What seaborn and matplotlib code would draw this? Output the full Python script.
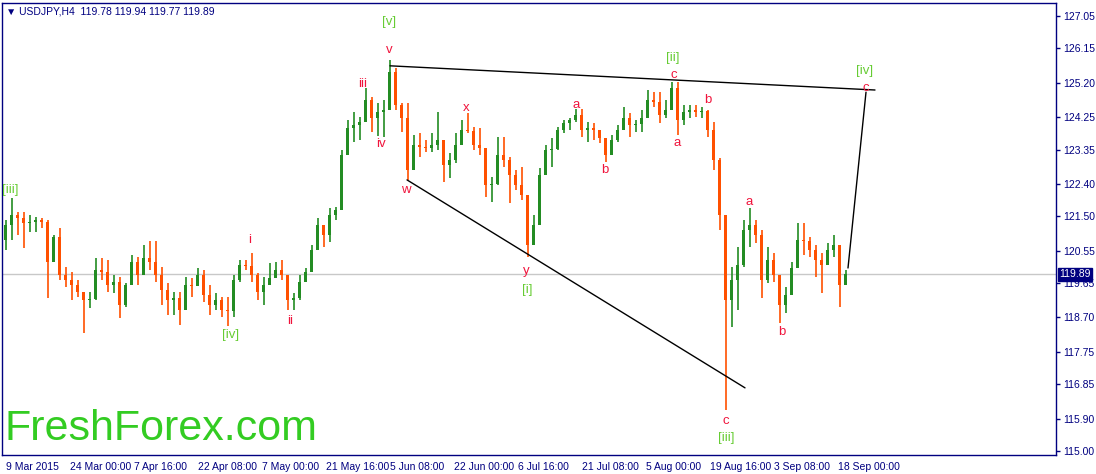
import numpy as np
import pandas as pd
import matplotlib
matplotlib.use("Agg")
import matplotlib.pyplot as plt
import matplotlib.transforms as mtransforms
import seaborn as sns

# daily bars (one day = 6 H4 bars)
open0 = 120.85
close = [121.26, 121.54, 121.46, 121.32, 121.34, 121.40, 121.34, 120.24, 120.93, 119.88,
         119.74, 119.60, 119.40, 119.18, 119.22, 120.01, 119.96, 119.60, 119.68, 119.04,
         119.60, 120.24, 119.88, 120.35, 120.24, 119.88, 119.46, 119.18, 119.24, 118.91,
         119.60, 119.57, 119.88, 119.32, 119.04, 119.18, 118.91, 118.88, 119.74, 120.15,
         120.12, 119.88, 119.40, 119.60, 119.79, 120.01, 119.88, 119.18, 119.24, 119.68,
         119.96, 120.57, 121.26, 120.98, 121.54, 121.68, 123.20, 123.95, 124.03, 124.11,
         124.72, 124.22, 124.39, 124.45, 125.50, 124.58, 124.22, 122.78, 123.48, 123.42,
         123.39, 123.48, 123.62, 122.92, 123.06, 123.48, 123.89, 123.86, 123.48, 123.39,
         122.37, 122.40, 123.20, 123.06, 122.64, 122.37, 122.09, 120.71, 121.26, 122.64,
         123.34, 123.37, 123.89, 124.08, 124.17, 124.31, 123.89, 123.95, 123.89, 123.67,
         123.20, 123.62, 123.89, 124.22, 124.03, 124.06, 124.22, 124.72, 124.68, 124.31,
         124.45, 125.06, 124.17, 124.39, 124.45, 124.39, 124.42, 123.89, 123.06, 121.54,
         119.18, 119.74, 120.15, 121.12, 121.26, 120.98, 119.74, 120.29, 119.88, 119.04,
         119.32, 120.07, 120.85, 120.82, 120.57, 120.29, 120.15, 120.57, 120.71, 119.60,
         119.89]
high = [121.40, 122.01, 121.62, 121.62, 121.54, 121.48, 121.46, 121.40, 120.98, 121.18,
        120.10, 119.96, 119.74, 119.40, 119.40, 120.35, 120.35, 120.29, 119.88, 119.82,
        119.65, 120.43, 120.37, 120.71, 120.82, 120.82, 120.10, 119.65, 119.40, 119.40,
        119.82, 119.79, 120.07, 120.01, 119.60, 119.38, 119.27, 119.27, 119.88, 120.29,
        120.29, 120.49, 119.93, 119.82, 120.21, 120.24, 120.29, 119.88, 119.38, 119.88,
        120.07, 120.71, 121.46, 121.26, 121.73, 121.76, 123.34, 124.17, 124.39, 124.25,
        125.06, 124.81, 124.64, 124.72, 125.83, 125.61, 124.64, 124.64, 123.75, 123.81,
        123.62, 123.81, 124.39, 123.62, 123.25, 123.81, 124.17, 124.36, 123.97, 123.95,
        123.39, 122.59, 123.70, 123.70, 123.14, 122.78, 122.87, 122.09, 121.54, 122.84,
        123.48, 123.67, 123.97, 124.17, 124.22, 124.47, 124.47, 124.11, 124.08, 123.89,
        123.67, 123.75, 124.03, 124.53, 124.36, 124.17, 124.45, 125.00, 124.94, 124.94,
        124.72, 125.22, 125.22, 124.58, 124.58, 124.58, 124.53, 124.45, 124.11, 123.11,
        121.54, 120.10, 120.65, 121.40, 121.73, 121.40, 121.12, 120.65, 120.49, 119.88,
        119.54, 120.24, 121.32, 121.32, 120.93, 120.71, 120.49, 120.76, 120.98, 120.71,
        120.01]
low = [120.57, 120.85, 120.98, 120.63, 121.07, 121.07, 121.18, 119.24, 120.24, 119.74,
       119.54, 119.18, 119.27, 118.27, 118.96, 119.18, 119.74, 119.40, 119.38, 118.68,
       118.99, 119.60, 119.60, 119.88, 120.01, 119.68, 119.04, 118.77, 118.77, 118.49,
       118.91, 119.27, 119.60, 119.13, 118.77, 118.91, 118.71, 118.46, 118.71, 119.68,
       120.01, 119.68, 119.18, 119.04, 119.60, 119.79, 119.74, 118.91, 118.91, 119.18,
       119.68, 119.96, 120.57, 120.65, 120.79, 121.40, 121.68, 123.20, 123.56, 123.62,
       124.11, 123.84, 123.73, 123.70, 124.45, 124.45, 123.84, 122.51, 122.78, 123.14,
       123.28, 123.28, 123.34, 122.45, 122.56, 122.98, 123.48, 123.81, 123.34, 123.20,
       122.04, 121.90, 122.37, 122.87, 121.87, 122.23, 121.95, 120.37, 120.71, 121.26,
       122.64, 122.87, 123.34, 123.81, 123.89, 124.11, 123.70, 123.56, 123.62, 123.53,
       123.01, 123.20, 123.56, 123.89, 123.70, 123.84, 123.84, 124.22, 124.53, 124.08,
       124.22, 124.45, 123.75, 124.03, 124.22, 124.25, 124.22, 123.70, 122.78, 121.12,
       116.14, 118.44, 118.91, 120.10, 120.65, 120.76, 119.24, 119.65, 119.68, 118.55,
       118.82, 119.32, 120.07, 120.43, 120.37, 119.82, 119.38, 120.15, 120.37, 118.99,
       119.60]

tick_labels = ["9 Mar 2015", "24 Mar 00:00", "7 Apr 16:00", "22 Apr 08:00", "7 May 00:00",
               "21 May 16:00", "5 Jun 08:00", "22 Jun 00:00", "6 Jul 16:00", "21 Jul 08:00",
               "5 Aug 00:00", "19 Aug 16:00", "3 Sep 08:00", "18 Sep 00:00"]
price_ticks = [127.05, 126.15, 125.20, 124.25, 123.35, 122.40, 121.50, 120.55,
               119.65, 118.70, 117.75, 116.85, 115.90, 115.00]
last_price = 119.89

# wave labels: (text, bar, price, kind)
waves = [("[iii]", 7, 122.23, "g"), ("[iv]", 228, 118.21, "g"), ("i", 247, 120.85, "r"),
         ("ii", 287, 118.60, "r"), ("iii", 360, 125.17, "r"), ("iv", 378, 123.50, "r"),
         ("[v]", 386, 126.88, "g"), ("v", 386, 126.11, "r"), ("w", 403, 122.23, "r"),
         ("x", 463, 124.50, "r"), ("y", 523, 119.99, "r"), ("[i]", 524, 119.46, "g"),
         ("a", 573, 124.58, "r"), ("b", 602, 122.78, "r"), ("[ii]", 670, 125.89, "g"),
         ("c", 671, 125.42, "r"), ("a", 674, 123.53, "r"), ("b", 705, 124.72, "r"),
         ("a", 746, 121.90, "r"), ("c", 723, 115.83, "r"), ("[iii]", 723, 115.36, "g"),
         ("b", 779, 118.30, "r"), ("[iv]", 862, 125.52, "g"), ("c", 863, 125.06, "r")]

# trend lines (bar, price) pairs
trend_lines = [[(387, 125.67), (872, 125.00)],
               [(404, 122.51), (742, 116.75)],
               [(845, 120.07), (863, 124.94)]]

NAVY = "#000080"
UP = "#238c23"
DOWN = "#ff5000"
RED = "#f0143c"
GREEN = "#66cc33"

sns.set_style("white")
plt.rcParams["font.family"] = ["Liberation Sans", "DejaVu Sans"]

df = pd.DataFrame({"close": close, "high": high, "low": low})
df["open"] = [open0] + close[:-1]
df["x"] = np.arange(len(df)) * 6 + 2.5
df["up"] = df["close"] >= df["open"]

fig = plt.figure(figsize=(10.96, 4.74), dpi=100)
ax = fig.add_axes([2 / 1096, 19 / 474, 1054 / 1096, 452 / 474])

ax.axhline(last_price, color="#c8c8c8", lw=1, zorder=1)

colors = np.where(df["up"], UP, DOWN)
lo = np.minimum(df["low"], np.minimum(df["open"], df["close"]))
hi = np.maximum(df["high"], np.maximum(df["open"], df["close"]))
ax.vlines(df["x"], lo, hi, colors=colors, lw=1.2, zorder=2)
ax.bar(df["x"], df["close"] - df["open"], bottom=df["open"], width=3.5,
       color=colors, linewidth=0, zorder=2)

for line in trend_lines:
    seg = pd.DataFrame(line, columns=["bar", "price"])
    sns.lineplot(data=seg, x="bar", y="price", color="black", lw=1, sort=False,
                 estimator=None, ax=ax, zorder=3)

for txt, bx, py, kind in waves:
    ax.text(bx, py, txt, ha="center", va="center", fontsize=9.5,
            color=GREEN if kind == "g" else RED, zorder=4)

ax.set_xlim(-1, 1053)
ax.set_ylim(114.89, 127.41)
ax.set_xlabel("")
ax.set_ylabel("")

ax.set_xticks(np.arange(len(tick_labels)) * 64)
ax.set_xticklabels(tick_labels, ha="left")
ax.yaxis.tick_right()
ax.set_yticks(price_ticks)
ax.set_yticklabels([f"{p:.2f}" for p in price_ticks])
ax.tick_params(axis="both", colors=NAVY, labelsize=7.5, length=3, width=1, direction="out",
               pad=2)
shift = mtransforms.ScaledTranslation(3 / 100, 0, fig.dpi_scale_trans)
for lab in ax.get_xticklabels():
    lab.set_transform(lab.get_transform() + shift)
for sp in ax.spines.values():
    sp.set_color(NAVY)
    sp.set_linewidth(1)
    sp.set_visible(True)

trans = mtransforms.blended_transform_factory(ax.transAxes, ax.transData)
ax.text(1.003, last_price, f"{last_price:.2f}", transform=trans, ha="left", va="center",
        fontsize=7.5, color="white", zorder=5,
        bbox=dict(boxstyle="square,pad=0.15", fc=NAVY, ec=NAVY))

ax.text(0.004, 0.993, "\u25bc USDJPY,H4  119.78 119.94 119.77 119.89", transform=ax.transAxes,
        ha="left", va="top", fontsize=7.5, color=NAVY)

fig.text(5 / 1096, 1 - 440 / 474, "FreshForex.com", fontsize=31, color="#33cc22",
         family="Liberation Sans", ha="left", va="baseline")

fig.savefig("out.png", dpi=100)
